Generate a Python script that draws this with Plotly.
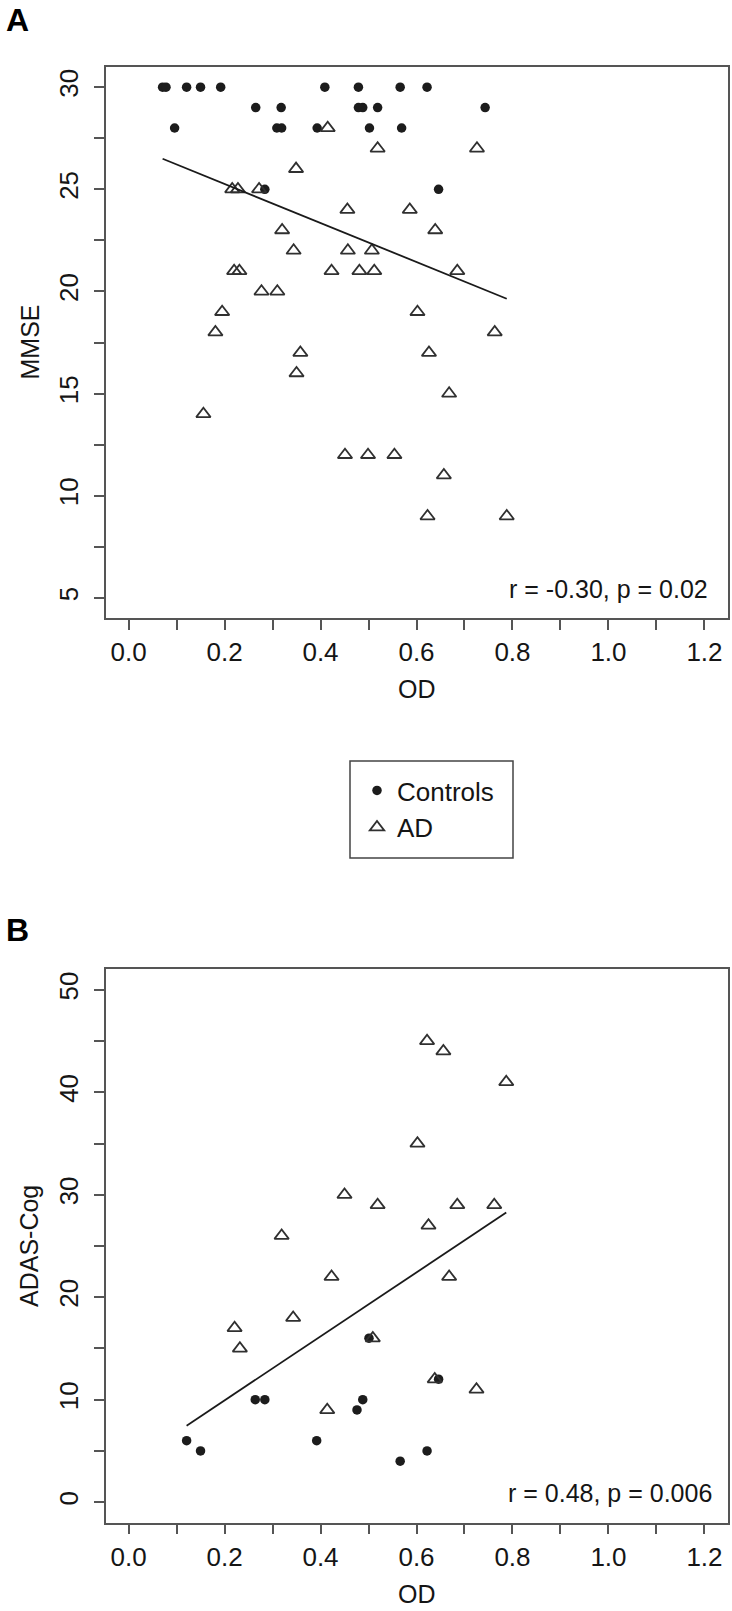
import numpy as np
import plotly.graph_objects as go

# ---------------- data ----------------
# Panel A: MMSE vs OD
a_ctrl_od = [0.071, 0.078, 0.121, 0.150, 0.192, 0.409, 0.479, 0.566, 0.622,
             0.265, 0.318, 0.479, 0.488, 0.519, 0.743,
             0.096, 0.309, 0.319, 0.393, 0.502, 0.569,
             0.284, 0.646]
a_ctrl_mmse = [30, 30, 30, 30, 30, 30, 30, 30, 30,
               29, 29, 29, 29, 29, 29,
               28, 28, 28, 28, 28, 28,
               25, 25]
a_ad_od = [0.415, 0.519, 0.726, 0.349, 0.216, 0.228, 0.272, 0.456, 0.586,
           0.320, 0.639, 0.344, 0.457, 0.507, 0.220, 0.231, 0.423, 0.481,
           0.512, 0.685, 0.277, 0.310, 0.195, 0.602, 0.181, 0.763, 0.358,
           0.626, 0.350, 0.668, 0.156, 0.451, 0.499, 0.554, 0.657, 0.623, 0.788]
a_ad_mmse = [28, 27, 27, 26, 25, 25, 25, 24, 24,
             23, 23, 22, 22, 22, 21, 21, 21, 21,
             21, 21, 20, 20, 19, 19, 18, 18, 17,
             17, 16, 15, 14, 12, 12, 12, 11, 9, 9]

# Panel B: ADAS-Cog vs OD
b_ctrl_od = [0.121, 0.150, 0.264, 0.284, 0.392, 0.476, 0.488, 0.566, 0.622, 0.646, 0.501]
b_ctrl_adas = [6, 5, 10, 10, 6, 9, 10, 4, 5, 12, 16]
b_ad_od = [0.221, 0.232, 0.343, 0.423, 0.668, 0.509, 0.638, 0.725, 0.414, 0.622,
           0.656, 0.787, 0.602, 0.450, 0.519, 0.685, 0.762, 0.625, 0.319]
b_ad_adas = [17, 15, 18, 22, 22, 16, 12, 11, 9, 45,
             44, 41, 35, 30, 29, 29, 29, 27, 26]

x_tickvals = [0.0, 0.1, 0.2, 0.3, 0.4, 0.5, 0.6, 0.7, 0.8, 0.9, 1.0, 1.1, 1.2]
x_ticktext = ["0.0", "", "0.2", "", "0.4", "", "0.6", "", "0.8", "", "1.0", "", "1.2"]
a_y_tickvals = [5, 7.5, 10, 12.5, 15, 17.5, 20, 22.5, 25, 27.5, 30]
a_y_ticktext = ["5", "", "10", "", "15", "", "20", "", "25", "", "30"]
b_y_tickvals = [0, 5, 10, 15, 20, 25, 30, 35, 40, 45, 50]
b_y_ticktext = ["0", "", "10", "", "20", "", "30", "", "40", "", "50"]

stat_a = "r = -0.30, p = 0.02"
stat_b = "r = 0.48, p = 0.006"

# ---------------- layout helpers ----------------
W, H = 732, 1611
FONT = "Liberation Sans, Arial, Helvetica, sans-serif"
TEXT_COLOR = "#151515"
CTRL_COLOR = "#1c1c1c"
AD_COLOR = "#303030"
AXIS_COLOR = "#555555"


def fx(p):
    return p / W


def fy(p):
    return 1 - p / H


def fit_line(xs, ys):
    xs = np.asarray(xs, float)
    ys = np.asarray(ys, float)
    k, b = np.polyfit(xs, ys, 1)
    xl = np.array([xs.min(), xs.max()])
    return xl, k * xl + b


ctrl_marker = dict(symbol="circle", size=9.5, color=CTRL_COLOR)
ad_marker = dict(symbol="triangle-up-open", size=12.5, color=AD_COLOR,
                 line=dict(width=1.8, color=AD_COLOR))

fig = go.Figure()

# Panel A
fig.add_trace(go.Scatter(x=a_ctrl_od, y=a_ctrl_mmse, mode="markers", name="Controls",
                         marker=ctrl_marker, xaxis="x", yaxis="y"))
fig.add_trace(go.Scatter(x=a_ad_od, y=a_ad_mmse, mode="markers", name="AD",
                         marker=ad_marker, xaxis="x", yaxis="y"))
xl, yl = fit_line(a_ctrl_od + a_ad_od, a_ctrl_mmse + a_ad_mmse)
fig.add_trace(go.Scatter(x=xl, y=yl, mode="lines", line=dict(color="#1a1a1a", width=1.8),
                         showlegend=False, xaxis="x", yaxis="y", hoverinfo="skip"))

# Panel B
fig.add_trace(go.Scatter(x=b_ctrl_od, y=b_ctrl_adas, mode="markers", name="Controls",
                         marker=ctrl_marker, xaxis="x2", yaxis="y2", showlegend=False))
fig.add_trace(go.Scatter(x=b_ad_od, y=b_ad_adas, mode="markers", name="AD",
                         marker=ad_marker, xaxis="x2", yaxis="y2", showlegend=False))
xl, yl = fit_line(b_ctrl_od + b_ad_od, b_ctrl_adas + b_ad_adas)
fig.add_trace(go.Scatter(x=xl, y=yl, mode="lines", line=dict(color="#1a1a1a", width=1.8),
                         showlegend=False, xaxis="x2", yaxis="y2", hoverinfo="skip"))

axis_common = dict(showline=True, mirror=True, linecolor=AXIS_COLOR, linewidth=1.5,
                   ticks="outside", ticklen=10, tickwidth=1.5, tickcolor=AXIS_COLOR,
                   showgrid=False, zeroline=False, automargin=False,
                   tickfont=dict(family=FONT, size=26, color=TEXT_COLOR))

xdom = [fx(105.5), fx(727.5)]
ydom_a = [fy(618.3), fy(66.7)]
ydom_b = [fy(1522.7), fy(969.3)]

fig.update_layout(
    width=W, height=H,
    margin=dict(l=0, r=0, t=0, b=0),
    paper_bgcolor="white", plot_bgcolor="white",
    font=dict(family=FONT, size=25, color=TEXT_COLOR),
    xaxis=dict(domain=xdom, range=[-0.048, 1.248], tickvals=x_tickvals, ticktext=x_ticktext,
               anchor="y", ticklabelstandoff=0, **axis_common),
    yaxis=dict(domain=ydom_a, range=[4, 31], tickvals=a_y_tickvals, ticktext=a_y_ticktext,
               anchor="x", tickangle=-90, ticklabelstandoff=5, **axis_common),
    xaxis2=dict(domain=xdom, range=[-0.048, 1.248], tickvals=x_tickvals, ticktext=x_ticktext,
                anchor="y2", ticklabelstandoff=0, **axis_common),
    yaxis2=dict(domain=ydom_b, range=[-2, 52], tickvals=b_y_tickvals, ticktext=b_y_ticktext,
                anchor="x2", tickangle=-90, ticklabelstandoff=5, **axis_common),
    showlegend=True,
    legend=dict(x=fx(357), y=fy(767), xanchor="left", yanchor="top",
                bgcolor="rgba(0,0,0,0)", borderwidth=0, tracegroupgap=0,
                font=dict(family=FONT, size=26, color=TEXT_COLOR)),
)

# legend border box
fig.add_shape(type="rect", xref="paper", yref="paper",
              x0=fx(350), x1=fx(513), y0=fy(858), y1=fy(761),
              line=dict(color="#444", width=1.5))

ann = []
ann.append(dict(text="<b>A</b>", x=fx(4), y=fy(20), xanchor="left", yanchor="middle",
                font=dict(size=32, family=FONT, color="#000")))
ann.append(dict(text="<b>B</b>", x=fx(4), y=fy(929.5), xanchor="left", yanchor="middle",
                font=dict(size=32, family=FONT, color="#000")))
ann.append(dict(text="MMSE", x=fx(29), y=fy(342.5), textangle=-90,
                xanchor="center", yanchor="middle"))
ann.append(dict(text="ADAS-Cog", x=fx(29), y=fy(1246), textangle=-90,
                xanchor="center", yanchor="middle"))
ann.append(dict(text="OD", x=fx(416.5), y=fy(689), xanchor="center", yanchor="middle"))
ann.append(dict(text="OD", x=fx(416.5), y=fy(1594), xanchor="center", yanchor="middle"))
ann.append(dict(text=stat_a, x=fx(710), y=fy(589), xanchor="right", yanchor="middle"))
ann.append(dict(text=stat_b, x=fx(714), y=fy(1493), xanchor="right", yanchor="middle"))
for a in ann:
    a.update(xref="paper", yref="paper", showarrow=False)
    if "font" not in a:
        a["font"] = dict(family=FONT, size=25, color=TEXT_COLOR)
fig.update_layout(annotations=ann)

fig.write_html("out.html", config={"displayModeBar": False},
               post_script="document.body.style.margin='0';document.body.style.overflow='hidden';")
